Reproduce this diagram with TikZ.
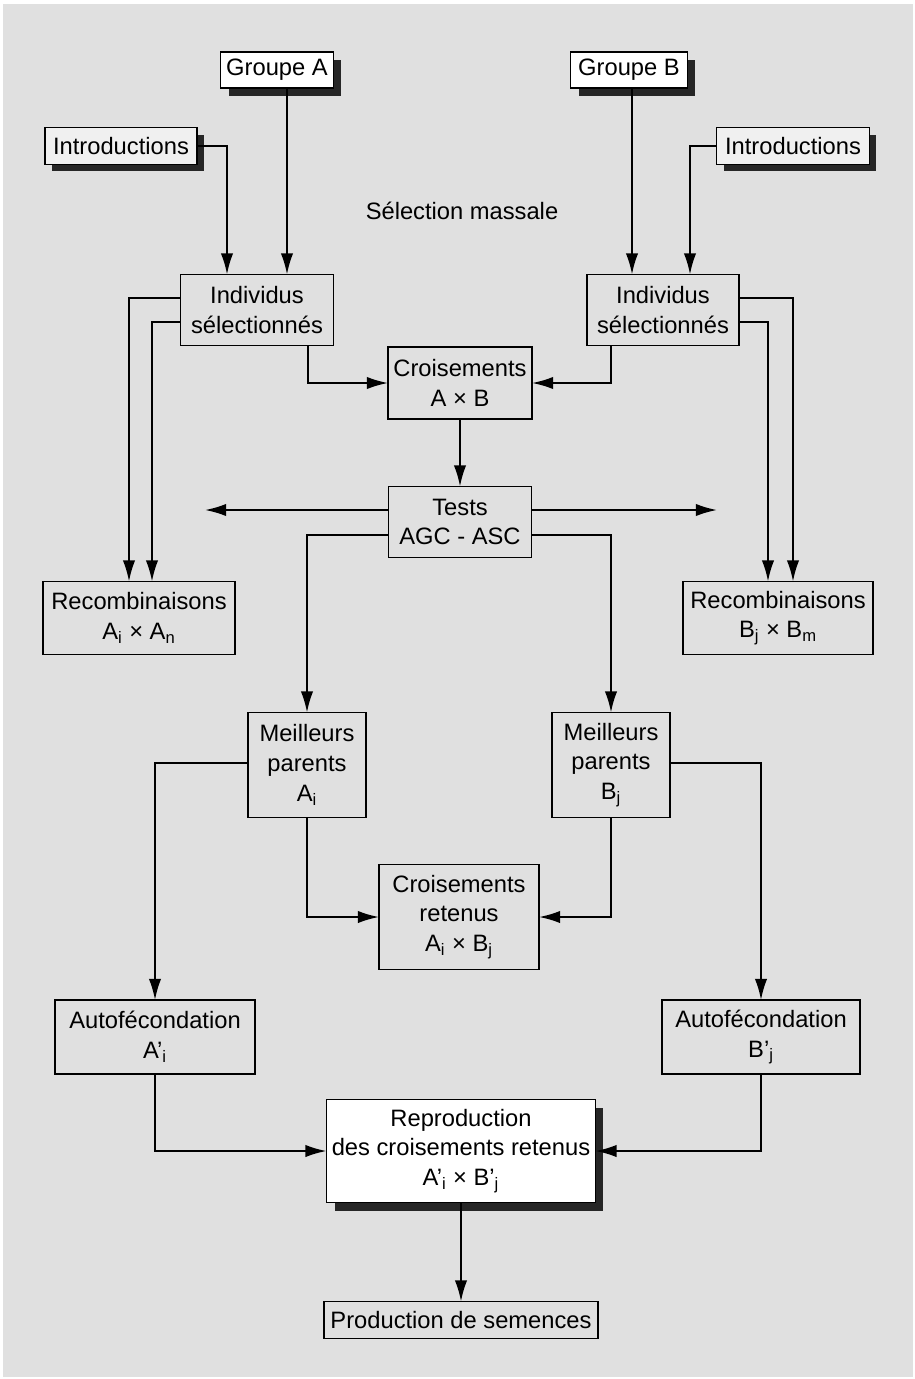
\documentclass[tikz,border=0pt]{standalone}
\usepackage{fontspec}
\setmainfont{Liberation Sans}
\usetikzlibrary{arrows.meta,shadows}
\definecolor{fondgris}{gray}{0.88}
\tikzset{
  boite/.style={draw,line width=1.1pt,fill=fondgris,align=center,inner sep=0pt,outer sep=0pt,
    font=\fontsize{13.5}{17}\selectfont},
  boiteblanche/.style={boite,fill=white,drop shadow={shadow xshift=0.16cm,shadow yshift=-0.16cm,fill=black!85,opacity=1}},
  boiteintro/.style={boite,fill=black!6,drop shadow={shadow xshift=0.14cm,shadow yshift=-0.14cm,fill=black!85,opacity=1}},
  fleche/.style={line width=1.1pt,-{Latex[length=12pt,width=7pt]}}
}
\begin{document}
\begin{tikzpicture}[x=0.02cm,y=-0.02cm]
\useasboundingbox (0,0) rectangle (915,1379);
\fill[fondgris] (3,4) rectangle (913,1377);

\node[boiteblanche,minimum width=2.26cm,minimum height=0.72cm] (grpA) at (277,70) {Groupe A};
\node[boiteblanche,minimum width=2.34cm,minimum height=0.72cm] (grpB) at (629,70) {Groupe B};
\node[boiteintro,minimum width=3.04cm,minimum height=0.74cm] (intA) at (121,146) {Introductions};
\node[boiteintro,minimum width=3.06cm,minimum height=0.74cm] (intB) at (793,146) {Introductions};
\node[font=\fontsize{13.5}{17}\selectfont] (selmas) at (462,211) {Sélection massale};
\node[boite,minimum width=3.06cm,minimum height=1.42cm] (indA) at (257,310) {Individus\\sélectionnés};
\node[boite,minimum width=3.04cm,minimum height=1.42cm] (indB) at (663,310) {Individus\\sélectionnés};
\node[boite,minimum width=2.88cm,minimum height=1.44cm] (crAB) at (460,383) {Croisements\\A × B};
\node[boite,minimum width=2.86cm,minimum height=1.42cm] (tests) at (460,522) {Tests\\AGC - ASC};
\node[boite,minimum width=3.84cm,minimum height=1.46cm] (recA) at (139,618) {Recombinaisons\\A\textsubscript{i} × A\textsubscript{n}};
\node[boite,minimum width=3.80cm,minimum height=1.46cm] (recB) at (778,618) {Recombinaisons\\B\textsubscript{j} × B\textsubscript{m}};
\node[boite,minimum width=2.36cm,minimum height=2.1cm] (mpA) at (307,765) {Meilleurs\\parents\\A\textsubscript{i}};
\node[boite,minimum width=2.36cm,minimum height=2.1cm] (mpB) at (611,765) {Meilleurs\\parents\\B\textsubscript{j}};
\node[boite,minimum width=3.2cm,minimum height=2.1cm] (crRet) at (459,917) {Croisements\\retenus\\A\textsubscript{i} × B\textsubscript{j}};
\node[boite,minimum width=4.0cm,minimum height=1.48cm] (afA) at (155,1037) {Autofécondation\\A’\textsubscript{i}};
\node[boite,minimum width=3.96cm,minimum height=1.48cm] (afB) at (761,1037) {Autofécondation\\B’\textsubscript{j}};
\node[boiteblanche,minimum width=5.38cm,minimum height=2.06cm] (repro) at (461,1151) {Reproduction\\des croisements retenus\\A’\textsubscript{i} × B’\textsubscript{j}};
\node[boite,minimum width=5.48cm,minimum height=0.74cm] (prod) at (461,1320) {Production de semences};

\coordinate (finG) at (205,510);
\coordinate (finD) at (717,510);

\draw[fleche] ([xshift=0.2cm]grpA.south) -- ([xshift=0.6cm]indA.north);
\draw[fleche] (intA.east) -| ([xshift=-0.6cm]indA.north);
\draw[fleche] ([xshift=0.06cm]grpB.south) -- ([xshift=-0.62cm]indB.north);
\draw[fleche] (intB.west) -| ([xshift=0.54cm]indB.north);

\draw[fleche] ([yshift=0.24cm]indA.west) -| ([xshift=-0.2cm]recA.north);
\draw[fleche] ([yshift=-0.24cm]indA.west) -| ([xshift=0.26cm]recA.north);
\draw[fleche] ([yshift=0.24cm]indB.east) -| ([xshift=0.3cm]recB.north);
\draw[fleche] ([yshift=-0.24cm]indB.east) -| ([xshift=-0.2cm]recB.north);

\draw[fleche] ([xshift=1.02cm]indA.south) |- (crAB.west);
\draw[fleche] ([xshift=-1.04cm]indB.south) |- (crAB.east);
\draw[fleche] (crAB.south) -- (tests.north);

\draw[fleche] ([yshift=0.24cm]tests.west) -- (finG);
\draw[fleche] ([yshift=0.24cm]tests.east) -- (finD);
\draw[fleche] ([yshift=-0.26cm]tests.west) -| (mpA.north);
\draw[fleche] ([yshift=-0.26cm]tests.east) -| (mpB.north);

\draw[fleche] ([yshift=0.04cm]mpA.west) -| (afA.north);
\draw[fleche] ([yshift=0.04cm]mpB.east) -| (afB.north);
\draw[fleche] (mpA.south) |- (crRet.west);
\draw[fleche] (mpB.south) |- (crRet.east);

\draw[fleche] (afA.south) |- (repro.west);
\draw[fleche] (afB.south) |- (repro.east);
\draw[fleche] (repro.south) -- (prod.north);
\end{tikzpicture}
\end{document}
